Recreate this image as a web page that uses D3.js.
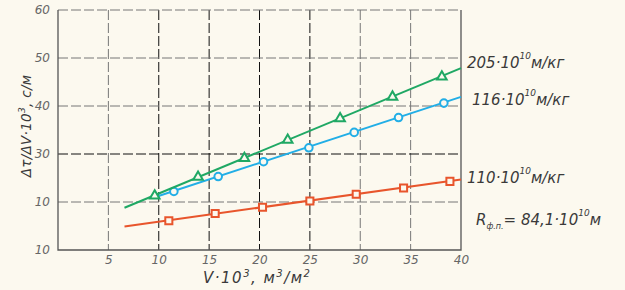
<!DOCTYPE html>
<html>
<head>
<meta charset="utf-8">
<script src="https://cdn.jsdelivr.net/npm/d3@7"></script>
<style>
  body { margin: 0; background: #fcf9ef; }
  text { font-family: "DejaVu Sans", sans-serif; font-style: italic; }
</style>
</head>
<body>
<div class="chart"></div>
<script>
// ============================================================================
// Data
// ============================================================================

var yTicks = [10, 20, 30, 40, 50, 60];
var yTickLabels = ['10', '10', '30', '40', '50', '60'];
var xTicks = [5, 10, 15, 20, 25, 30, 35, 40];
var xTickLabels = ['5', '10', '15', '20', '25', '30', '35', '40'];

// 205·10^10 м/кг (triangles)
var vGreen = [9.6, 13.9, 18.5, 22.8, 28.0, 33.2, 38.1];
var tGreen = [21.3, 25.2, 29.1, 32.9, 37.4, 41.9, 46.1];
var fitVGreen = [6.6, 40];
var fitTGreen = [18.8, 47.9];

// 116·10^10 м/кг (circles)
var vBlue = [11.5, 15.9, 20.4, 24.9, 29.4, 33.8, 38.3];
var tBlue = [22.2, 25.3, 28.4, 31.3, 34.5, 37.6, 40.6];
var fitVBlue = [9.6, 40];
var fitTBlue = [21.0, 41.9];

// 110·10^10 м/кг (squares)
var vRed = [11.0, 15.6, 20.3, 25.0, 29.6, 34.3, 38.9];
var tRed = [16.1, 17.6, 18.9, 20.2, 21.6, 22.9, 24.3];
var fitVRed = [6.6, 40];
var fitTRed = [14.9, 24.7];

// ============================================================================
// Create SVG
// ============================================================================

var svgWidth = 625;
var svgHeight = 290;
var bg = '#fcf9ef';

var svg = d3.select('.chart')
  .append('svg')
  .attr('width', svgWidth)
  .attr('height', svgHeight)
  .style('display', 'block')
  .style('background', bg);

var plotLeft = 58, plotRight = 461, plotTop = 10, plotBottom = 250;

var xScale = d3.scaleLinear().domain([0, 40]).range([plotLeft, plotRight]);
var yScale = d3.scaleLinear().domain([10, 60]).range([plotBottom, plotTop]);

// ============================================================================
// Grid
// ============================================================================

var darkV = [10, 15, 20, 25];
var gridGroup = svg.append('g');

gridGroup.selectAll('line.vg')
  .data(xTicks.filter(d => d < 40))
  .enter()
    .append('line')
    .attr('x1', d => xScale(d))
    .attr('x2', d => xScale(d))
    .attr('y1', plotTop)
    .attr('y2', plotBottom)
    .attr('stroke', d => darkV.includes(d) ? '#111' : '#777')
    .attr('stroke-width', 1)
    .attr('stroke-dasharray', '10,3');

gridGroup.selectAll('line.hg')
  .data(yTicks.filter(d => d > 10))
  .enter()
    .append('line')
    .attr('x1', plotLeft)
    .attr('x2', plotRight)
    .attr('y1', d => yScale(d))
    .attr('y2', d => yScale(d))
    .attr('stroke', d => d === 30 ? '#111' : '#777')
    .attr('stroke-width', 1)
    .attr('stroke-dasharray', '10,3');

// Frame: left, bottom, right solid
svg.append('path')
  .attr('d', `M${plotLeft},${plotTop}V${plotBottom}H${plotRight}V${plotTop}`)
  .attr('fill', 'none')
  .attr('stroke', '#555')
  .attr('stroke-width', 1.3);

// ============================================================================
// Axes labels
// ============================================================================

var xAxis = d3.axisBottom(xScale)
  .tickValues(xTicks)
  .tickSize(0)
  .tickFormat((d, i) => xTickLabels[i]);

svg.append('g')
  .attr('transform', `translate(0, ${plotBottom})`)
  .call(xAxis)
  .call(g => g.select('.domain').remove())
  .selectAll('text')
    .attr('dy', '0.95em')
    .attr('font-size', 12)
    .attr('fill', '#666')
    .style('font-family', '"DejaVu Sans", sans-serif');

var yAxis = d3.axisLeft(yScale)
  .tickValues(yTicks)
  .tickSize(0)
  .tickFormat((d, i) => yTickLabels[i]);

svg.append('g')
  .attr('transform', `translate(${plotLeft - 5}, 0)`)
  .call(yAxis)
  .call(g => g.select('.domain').remove())
  .selectAll('text')
    .attr('font-size', 12)
    .attr('fill', '#666')
    .style('font-family', '"DejaVu Sans", sans-serif');

// x title
var xTitle = svg.append('text')
  .attr('x', 203)
  .attr('y', 283)
  .attr('font-size', 15)
  .attr('letter-spacing', 1.5)
  .attr('fill', '#3a3a3a');
xTitle.append('tspan').text('V·10');
xTitle.append('tspan').attr('dy', -6).attr('font-size', 10).text('3');
xTitle.append('tspan').attr('dy', 6).text(', м');
xTitle.append('tspan').attr('dy', -6).attr('font-size', 10).text('3');
xTitle.append('tspan').attr('dy', 6).text('/м');
xTitle.append('tspan').attr('dy', -6).attr('font-size', 10).text('2');

// y title
var yTitle = svg.append('text')
  .attr('transform', 'translate(31, 126) rotate(-90)')
  .attr('text-anchor', 'middle')
  .attr('font-size', 13.5)
  .attr('letter-spacing', 0.3)
  .attr('fill', '#3a3a3a');
yTitle.append('tspan').text('Δτ/ΔV·10');
yTitle.append('tspan').attr('dy', -6).attr('font-size', 9).text('3');
yTitle.append('tspan').attr('dy', 6).text(', с/м');

// ============================================================================
// Series
// ============================================================================

var line = d3.line()
  .x(d => xScale(d[0]))
  .y(d => yScale(d[1]));

function drawSeries(vs, ts, fitV, fitT, color, symbolType, size) {
  svg.append('path')
    .datum(d3.zip(fitV, fitT))
    .attr('d', line)
    .attr('fill', 'none')
    .attr('stroke', color)
    .attr('stroke-width', 2);

  svg.selectAll(null)
    .data(d3.zip(vs, ts))
    .enter()
      .append('path')
      .attr('transform', d => `translate(${xScale(d[0])}, ${yScale(d[1])})`)
      .attr('d', d3.symbol().type(symbolType).size(size))
      .attr('fill', bg)
      .attr('stroke', color)
      .attr('stroke-width', 2);
}

drawSeries(vRed, tRed, fitVRed, fitTRed, '#e8552c', d3.symbolSquare, 50);
drawSeries(vBlue, tBlue, fitVBlue, fitTBlue, '#22aee6', d3.symbolCircle, 45);
drawSeries(vGreen, tGreen, fitVGreen, fitTGreen, '#1fa864', d3.symbolTriangle, 40);

// ============================================================================
// Annotations
// ============================================================================

function coefLabel(x, y, num) {
  var t = svg.append('text')
    .attr('x', x)
    .attr('y', y)
    .attr('font-size', 15)
    .attr('fill', '#3a3a3a');
  t.append('tspan').text(num + '·10');
  t.append('tspan').attr('dy', -9).attr('font-size', 9).text('10');
  t.append('tspan').attr('dy', 9).text('м/кг');
}

coefLabel(467, 68, '205');
coefLabel(472, 105, '116');
coefLabel(467, 183, '110');

var rLabel = svg.append('text')
  .attr('x', 476)
  .attr('y', 225)
  .attr('font-size', 15)
  .attr('fill', '#3a3a3a');
rLabel.append('tspan').text('R');
rLabel.append('tspan').attr('dy', 4).attr('font-size', 8).text('ф.п.');
rLabel.append('tspan').attr('dy', -4).text('=  84,1·10');
rLabel.append('tspan').attr('dy', -9).attr('font-size', 9).text('10');
rLabel.append('tspan').attr('dy', 9).text('м');
</script>
</body>
</html>
